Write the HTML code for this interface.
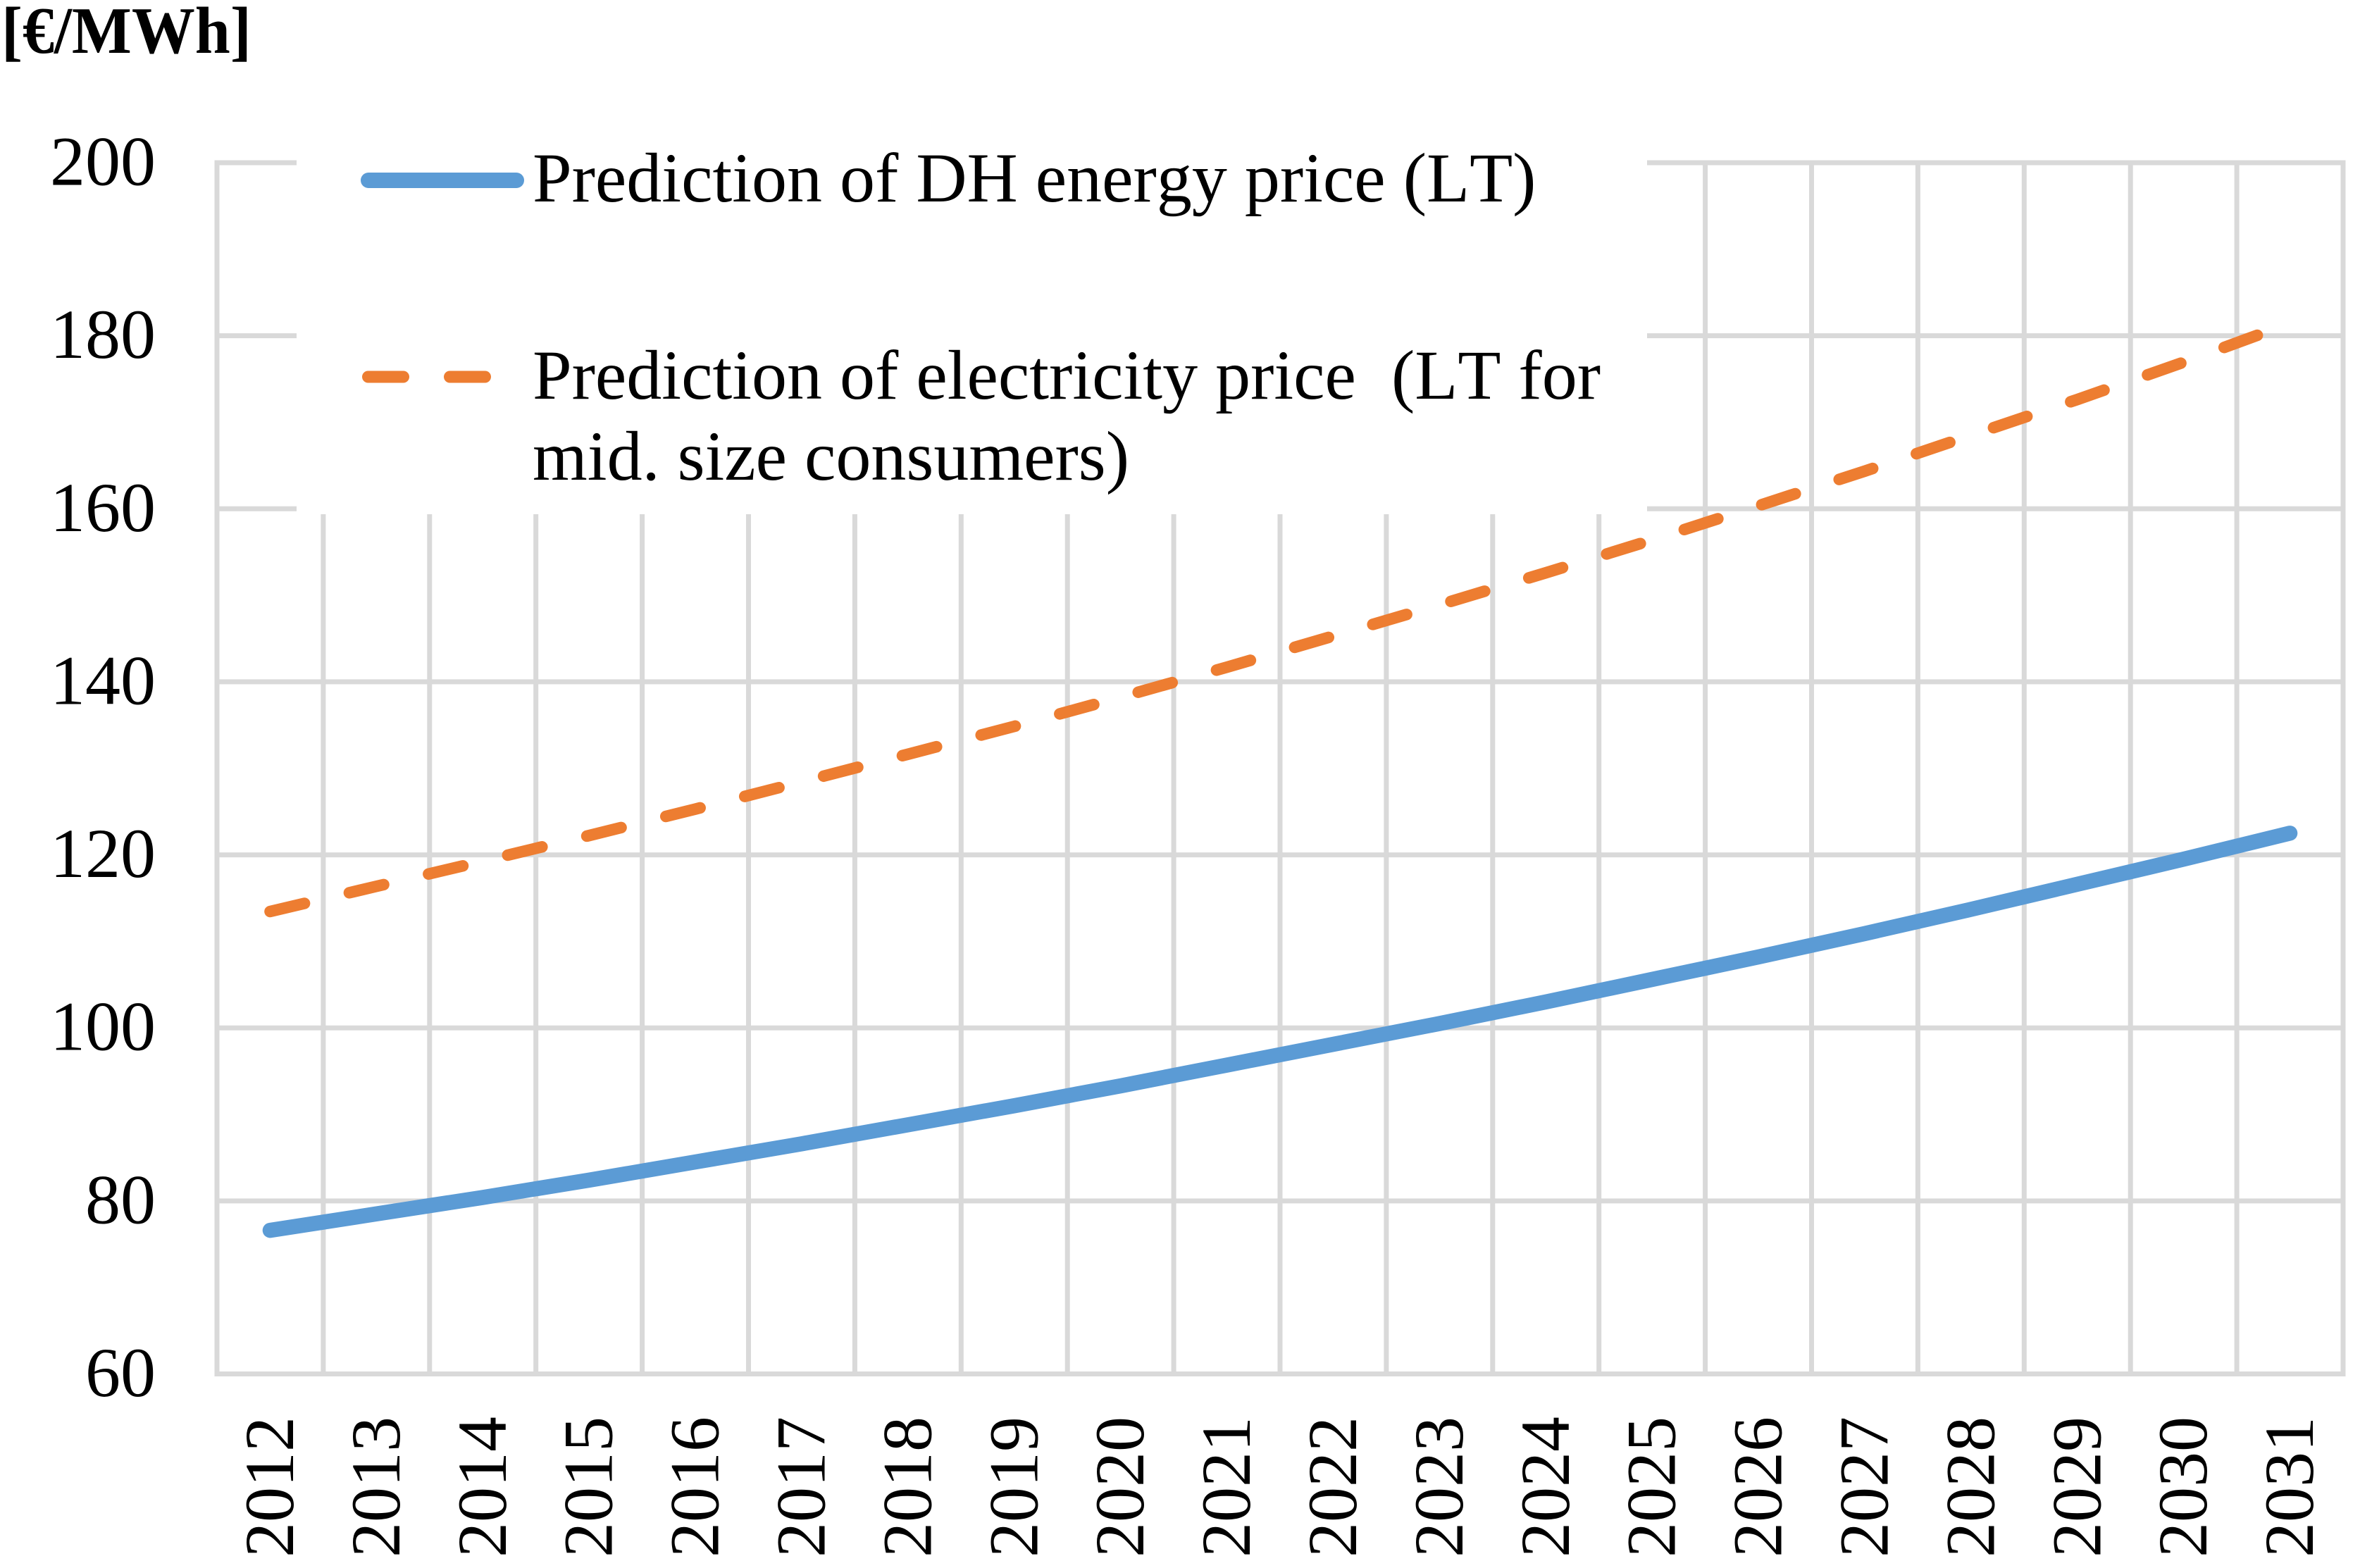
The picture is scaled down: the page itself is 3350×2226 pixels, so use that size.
<!DOCTYPE html>
<html lang="en">
<head>
<meta charset="utf-8">
<title>Predicted DH energy and electricity prices</title>
<style>
  html, body { margin: 0; padding: 0; background: #ffffff; }
  svg { display: block; }
  text { font-family: "Liberation Serif", "Times New Roman", serif; fill: #000000; white-space: pre; font-kerning: none; font-feature-settings: "kern" 0, "liga" 0; }
</style>
</head>
<body>
<svg id="chart" xmlns="http://www.w3.org/2000/svg" width="3350" height="2226" viewBox="0 0 3350 2226">
  <rect x="0" y="0" width="3350" height="2226" fill="#ffffff"/>
  <g id="grid"></g>
  <rect x="421" y="215" width="1917" height="515" fill="#ffffff"/>
  <g id="y-ticks"></g>
  <g id="x-ticks"></g>
  <g id="series"></g>
  <text transform="translate(2 75) scale(0.957 1)" font-size="94" font-weight="bold">[€/MWh]</text>
  <g>
    <g>
      <line x1="523" y1="256" x2="733" y2="256" stroke="#5b9bd5" stroke-width="22" stroke-linecap="round"/>
      <text x="756" y="286" font-size="100">Prediction of DH energy price (LT)</text>
    </g>
    <g>
      <line x1="522.5" y1="535" x2="572.5" y2="535" stroke="#ed7d31" stroke-width="17" stroke-linecap="round"/>
      <line x1="638.5" y1="535" x2="688.5" y2="535" stroke="#ed7d31" stroke-width="17" stroke-linecap="round"/>
      <text x="756" y="566" font-size="100">Prediction of electricity price  (LT for</text>
      <text x="756" y="681" font-size="100">mid. size consumers)</text>
    </g>
  </g>
</svg>
<script>
const categories = ["2012","2013","2014","2015","2016","2017","2018","2019","2020","2021","2022","2023","2024","2025","2026","2027","2028","2029","2030","2031"];
const dhPrice = [76.6,78.5,80.4,82.4,84.5,86.6,88.8,91.0,93.3,95.7,98.1,100.5,103.0,105.6,108.2,110.9,113.7,116.6,119.5,122.5];
const electricityPrice = [113.45,116.36,119.27,122.23,125.29,128.44,131.63,134.85,138.22,141.69,145.29,148.9,152.6,156.4,160.35,164.35,168.5,172.63,176.94,181.43];
const yTickLabels = [60,80,100,120,140,160,180,200];

const NS = "http://www.w3.org/2000/svg";
const plotLeft = 308, plotRight = 3326, plotTop = 231, plotBottom = 1950.5;
const yMin = 60, yMax = 200;

function xBand(i) { return plotLeft + (plotRight - plotLeft) * i / categories.length; }
function xScale(i) { return xBand(i + 0.5); }
function yScale(v) { return plotBottom - (v - yMin) * (plotBottom - plotTop) / (yMax - yMin); }

const grid = document.getElementById("grid");
const yTicks = document.getElementById("y-ticks");
const xTicks = document.getElementById("x-ticks");
const seriesGroup = document.getElementById("series");

yTickLabels.forEach(function (t) {
  const line = document.createElementNS(NS, "line");
  
  
  line.setAttribute("x1", plotLeft - 3.5);
  line.setAttribute("x2", plotRight + 3.5);
  line.setAttribute("y1", yScale(t));
  line.setAttribute("y2", yScale(t));
  line.setAttribute("stroke", "#d9d9d9");
  line.setAttribute("stroke-width", 7);
  grid.appendChild(line);

  const label = document.createElementNS(NS, "text");
  
  
  label.setAttribute("x", 221);
  label.setAttribute("y", yScale(t) + 31.5);
  label.setAttribute("font-size", 100);
  label.setAttribute("text-anchor", "end");
  label.textContent = String(t);
  yTicks.appendChild(label);
});

for (let i = 0; i <= categories.length; i++) {
  const line = document.createElementNS(NS, "line");
  
  
  line.setAttribute("x1", xBand(i));
  line.setAttribute("x2", xBand(i));
  line.setAttribute("y1", plotTop);
  line.setAttribute("y2", plotBottom);
  line.setAttribute("stroke", "#d9d9d9");
  line.setAttribute("stroke-width", 7);
  grid.appendChild(line);
}

categories.forEach(function (c, i) {
  const label = document.createElementNS(NS, "text");
  
  
  label.setAttribute("font-size", 100);
  label.setAttribute("transform", "translate(" + (xScale(i) + 32.5) + " 2211) rotate(-90)");
  label.textContent = c;
  xTicks.appendChild(label);
});

function pointsFor(values) {
  return values.map(function (v, i) { return xScale(i) + "," + yScale(v); }).join(" ");
}

const dhLine = document.createElementNS(NS, "polyline");


dhLine.setAttribute("points", pointsFor(dhPrice));
dhLine.setAttribute("fill", "none");
dhLine.setAttribute("stroke", "#5b9bd5");
dhLine.setAttribute("stroke-width", 21.5);
dhLine.setAttribute("stroke-linecap", "round");
dhLine.setAttribute("stroke-linejoin", "round");
seriesGroup.appendChild(dhLine);

const elLine = document.createElementNS(NS, "polyline");


elLine.setAttribute("points", pointsFor(electricityPrice));
elLine.setAttribute("fill", "none");
elLine.setAttribute("stroke", "#ed7d31");
elLine.setAttribute("stroke-width", 16.5);
elLine.setAttribute("stroke-linecap", "round");
elLine.setAttribute("stroke-linejoin", "round");
elLine.setAttribute("stroke-dasharray", "50 65.55");
seriesGroup.appendChild(elLine);
</script>
</body>
</html>
